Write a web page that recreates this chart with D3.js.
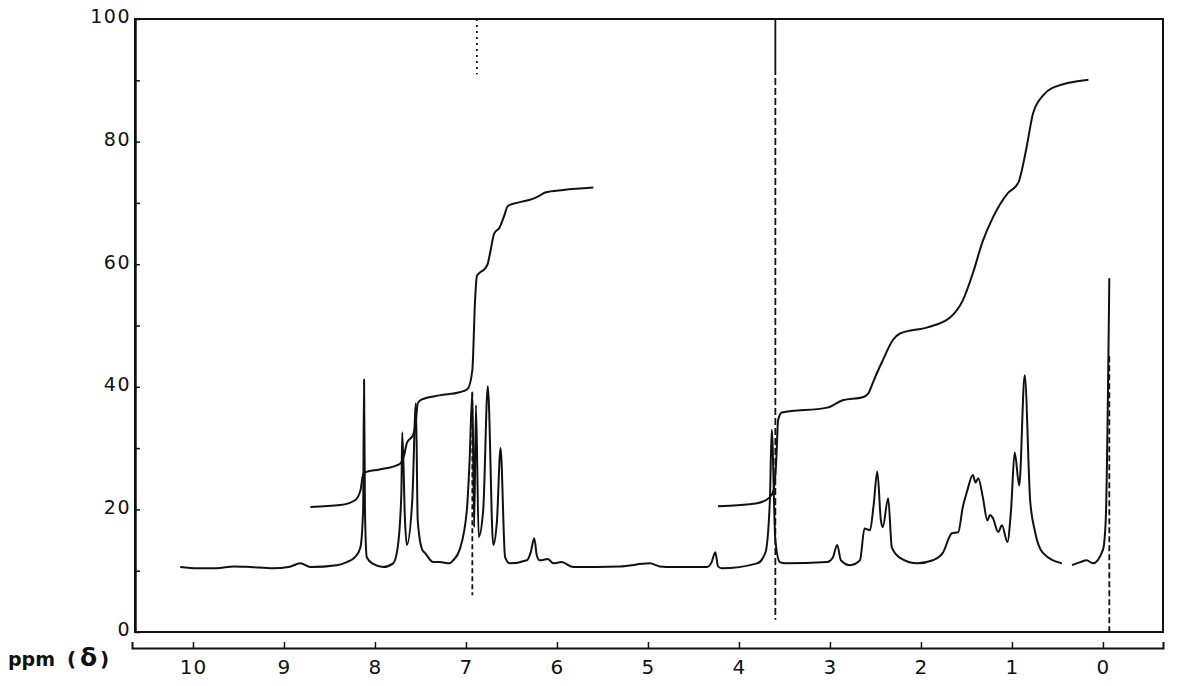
<!DOCTYPE html>
<html>
<head>
<meta charset="utf-8">
<script src="https://cdn.jsdelivr.net/npm/d3@7"></script>
<style>
  body { margin: 0; background: #fff; }
  svg { display: block; }
  .tick text { font-family: "DejaVu Sans", sans-serif; fill: #111; }
</style>
</head>
<body>
<svg id="chart" width="1177" height="686"></svg>
<script>
// NMR spectrum, values: [ppm, intensity]
const spectrum = [
  [10.14,10.6],[9.95,10.4],[9.74,10.4],[9.55,10.7],[9.37,10.6],[9.12,10.4],[8.95,10.6],[8.82,11.2],
  [8.71,10.6],[8.42,10.9],[8.31,11.4],[8.22,12.2],[8.16,13.8],[8.13,20],[8.12,41.2],[8.11,20],
  [8.09,12.2],[8.02,11.1],[7.91,10.6],[7.80,11.2],[7.75,13.8],[7.71,22.6],[7.70,32.6],[7.67,18.2],
  [7.65,14.2],[7.59,21.5],[7.55,37.3],[7.53,18.2],[7.48,13.4],[7.45,12.9],[7.36,11.4],[7.29,11.4],
  [7.18,11.2],[7.14,11.7],[7.07,13.4],[6.99,19.9],[6.96,28.0],[6.93,39.1],[6.91,17.1],[6.89,37.0],
  [6.86,15.5],[6.81,20],[6.76,40.1],[6.70,14.2],[6.66,18],[6.62,30.0],[6.57,12.2],[6.52,11.2],
  [6.33,11.7],[6.29,12.9],[6.25,15.3],[6.22,12.4],[6.19,11.7],[6.10,11.9],[6.04,11.2],[5.95,11.4],
  [5.82,10.6],[5.31,10.7],[4.98,11.2],[4.87,10.7],[4.73,10.6],[4.35,10.6],[4.30,11.4],[4.26,13.0],
  [4.23,10.7],[4.19,10.4],[3.80,11.2],[3.71,12.9],[3.66,21.5],[3.64,33],[3.60,15],[3.55,11.4],
  [3.49,11.2],[3.03,11.4],[2.97,12.1],[2.92,14.2],[2.88,11.7],[2.78,10.9],[2.67,11.7],[2.62,16.9],
  [2.56,16.6],[2.52,20.7],[2.48,26.2],[2.44,18.2],[2.42,17.1],[2.36,21.8],[2.32,13.8],[2.23,12.1],
  [2.04,11.2],[1.87,11.7],[1.76,12.9],[1.66,16.1],[1.59,16.3],[1.54,20.4],[1.49,23.1],[1.43,25.6],
  [1.40,24.4],[1.37,25.1],[1.32,22.0],[1.27,18.2],[1.24,19.1],[1.21,18.6],[1.15,16.3],[1.11,17.4],
  [1.05,14.7],[1.01,19.9],[0.97,29.3],[0.92,23.9],[0.86,41.9],[0.80,21.5],[0.75,16.6],[0.66,12.9],
  [0.45,11.2], null,
  [0.34,10.9],[0.25,11.4],[0.18,11.7],[0.11,11.2],[0.0,13.4],[-0.03,18],[-0.07,57.7]
];

// integral traces
const integral1 = [
  [8.71,20.4],[8.38,20.7],[8.22,21.5],[8.16,23.1],[8.13,25.7],[8.10,26.1],[7.95,26.5],[7.73,27.4],
  [7.68,28.8],[7.65,30.8],[7.58,32.2],[7.55,34.5],[7.53,37.3],[7.49,37.9],[7.29,38.6],[7.07,39.1],
  [6.98,39.7],[6.93,42.7],[6.90,54.1],[6.88,58.1],[6.85,58.6],[6.79,59.3],[6.76,60.1],[6.73,62.2],
  [6.69,65.0],[6.63,66.0],[6.58,67.9],[6.54,69.5],[6.44,70.0],[6.26,70.7],[6.19,71.2],[6.13,71.7],
  [5.93,72.1],[5.60,72.5]
];
const integral2 = [
  [4.23,20.5],[3.80,21.0],[3.66,22.0],[3.62,23.1],[3.59,28.0],[3.57,34.5],[3.53,35.8],[3.03,36.6],
  [2.86,37.8],[2.64,38.3],[2.58,38.9],[2.53,40.6],[2.47,42.7],[2.42,44.3],[2.31,47.6],[2.23,48.7],
  [1.93,49.7],[1.68,51.3],[1.54,54.1],[1.43,58.5],[1.32,63.8],[1.21,67.6],[1.05,71.5],[0.93,73.3],
  [0.84,79.0],[0.77,84.5],[0.66,87.5],[0.55,88.8],[0.16,90.1]
];

// pen strokes that are not part of the trace (dashed verticals)
const penMarks = [
  {ppm: 6.93, top: 39.1, bottom: 6.0, dash: "5,3"},
  {ppm: 6.88, top: 100, bottom: 91, dash: "2,4"},
  {ppm: 3.60, top: 100, bottom: 92, dash: null},
  {ppm: 3.60, top: 92, bottom: 2.0, dash: "7,3"},
  {ppm: -0.07, top: 45, bottom: 0, dash: "6,3"}
];

const ppmTicks = [10, 9, 8, 7, 6, 5, 4, 3, 2, 1, 0];
const yTicks = [0, 10, 20, 30, 40, 50, 60, 70, 80, 90, 100];

const svg = d3.select("#chart");
const frameLeft = 135, frameRight = 1163, frameTop = 19, frameBottom = 632;
const axisY = 648;

var x = d3.scaleLinear().domain([10.67, -0.66]).range([132, 1163]);
var y = d3.scaleLinear().domain([0, 100]).range([frameBottom, frameTop]);

// frame
svg.append("rect")
  .attr("x", frameLeft).attr("y", frameTop)
  .attr("width", frameRight - frameLeft).attr("height", frameBottom - frameTop)
  .attr("fill", "none").attr("stroke", "#111").attr("stroke-width", 2);

// left scale, ticks pointing inwards
var yAxis = svg.append("g")
  .attr("transform", "translate(" + frameLeft + ",0)")
  .call(d3.axisLeft(y).tickValues(yTicks).tickSizeInner(-5).tickSizeOuter(0).tickPadding(4)
    .tickFormat(function(d) { return d % 20 === 0 ? d : ""; }));
yAxis.select(".domain").attr("stroke", "#111").attr("stroke-width", 2.5);
yAxis.selectAll(".tick line").attr("stroke", "#111").attr("stroke-width", 1.5);
yAxis.selectAll(".tick text")
  .attr("font-size", 19).attr("letter-spacing", 1.5).attr("dy", "0.2em");

// ppm scale under the frame
var xAxis = svg.append("g")
  .attr("transform", "translate(0," + axisY + ")")
  .call(d3.axisBottom(x).tickValues(ppmTicks).tickSizeInner(-6).tickSizeOuter(-6).tickPadding(12));
xAxis.select(".domain").attr("stroke", "#111").attr("stroke-width", 2);
xAxis.selectAll(".tick line").attr("stroke", "#111").attr("stroke-width", 1.5);
xAxis.selectAll(".tick text").attr("font-size", 20).attr("letter-spacing", 1);

// axis caption
var cap = svg.append("text")
  .attr("y", 666)
  .attr("font-family", "DejaVu Sans, sans-serif")
  .attr("font-weight", "bold")
  .attr("fill", "#111");
cap.append("tspan").attr("x", 8).attr("font-size", 19).text("ppm");
cap.append("tspan").attr("x", 67).attr("font-size", 20).text("(");
cap.append("tspan").attr("x", 80).attr("font-size", 25).text("δ");
cap.append("tspan").attr("x", 100).attr("font-size", 20).text(")");

var line = d3.line()
  .defined(function(d) { return d != null; })
  .x(function(d) { return x(d[0]); })
  .y(function(d) { return y(d[1]); })
  .curve(d3.curveMonotoneX);

svg.append("path")
  .datum(spectrum)
  .attr("d", line)
  .attr("fill", "none").attr("stroke", "#111").attr("stroke-width", 2)
  .attr("stroke-linejoin", "round");

[integral1, integral2].forEach(function(trace) {
  svg.append("path")
    .datum(trace)
    .attr("d", line)
    .attr("fill", "none").attr("stroke", "#111").attr("stroke-width", 2)
    .attr("stroke-linejoin", "round");
});

svg.append("g")
  .selectAll("line")
  .data(penMarks)
  .enter()
  .append("line")
  .attr("x1", function(d) { return x(d.ppm); })
  .attr("x2", function(d) { return x(d.ppm); })
  .attr("y1", function(d) { return y(d.top); })
  .attr("y2", function(d) { return y(d.bottom); })
  .attr("stroke", "#111")
  .attr("stroke-width", 1.8)
  .attr("stroke-dasharray", function(d) { return d.dash; });
</script>
</body>
</html>
